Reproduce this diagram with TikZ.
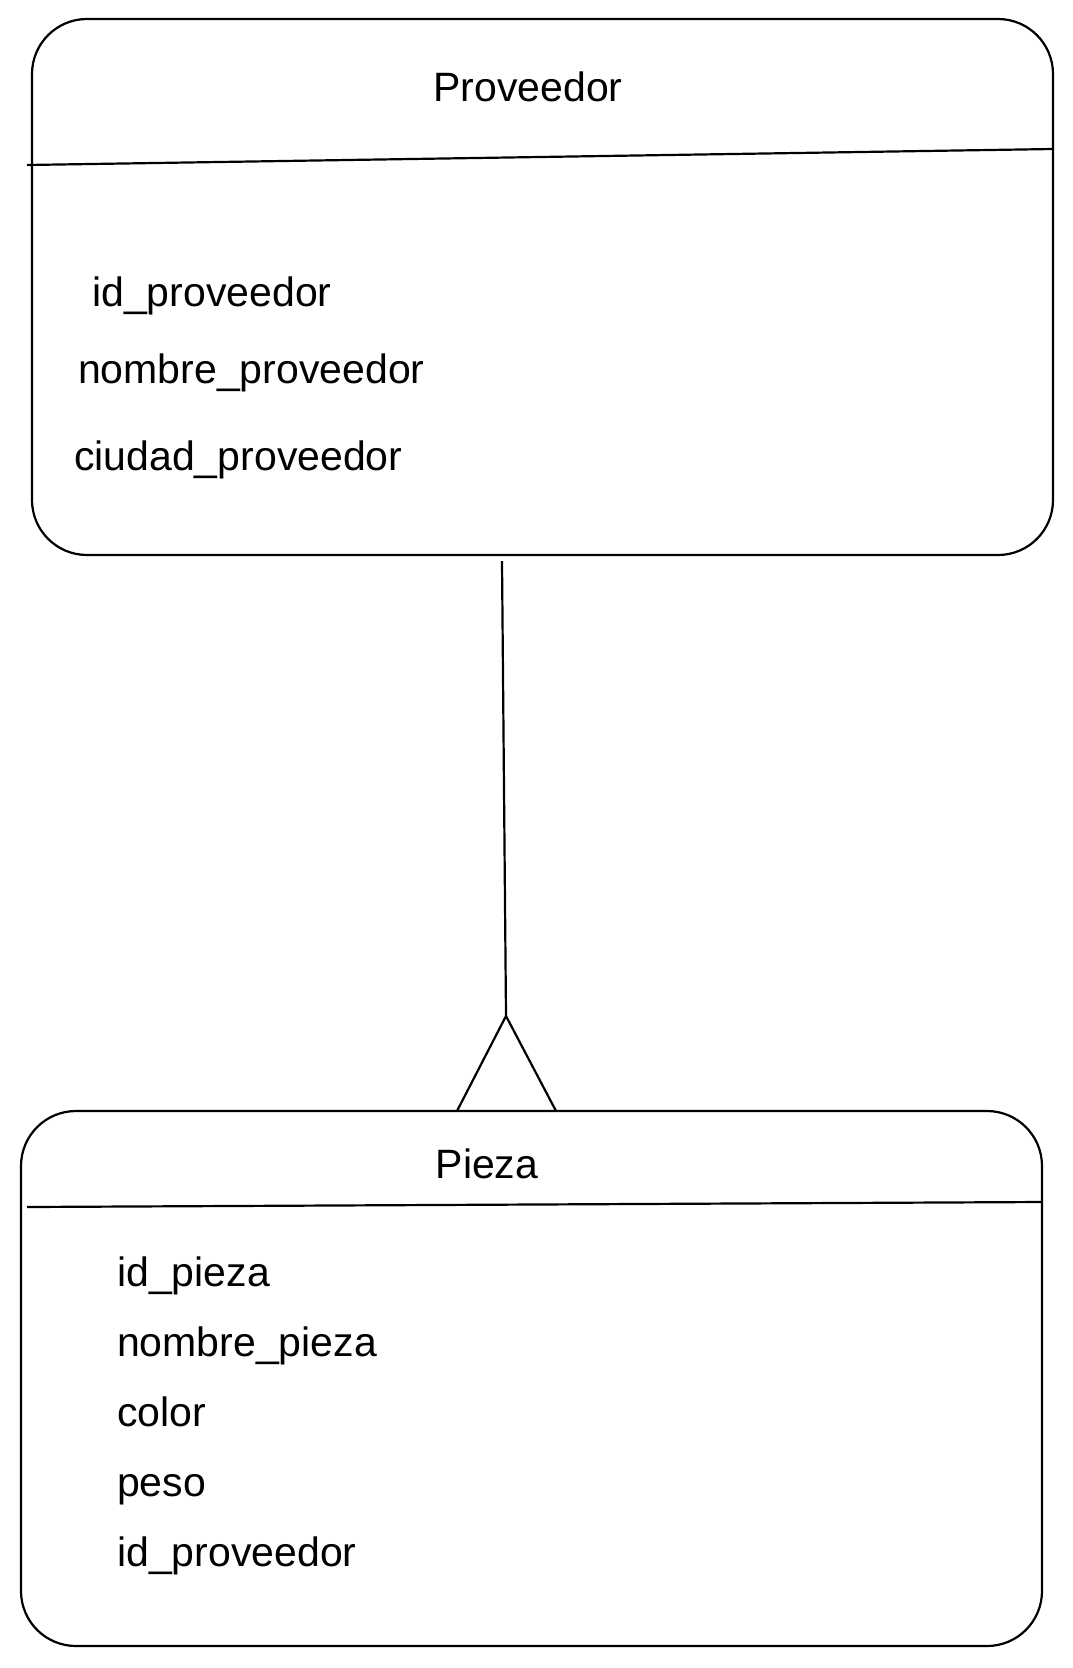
\documentclass[tikz,border=0pt]{standalone}
\usepackage{fontspec}
\setmainfont{Liberation Sans}
\usepackage{tikz}
\usetikzlibrary{positioning,calc}

\begin{document}
\begin{tikzpicture}[
    x=1pt, y=-1pt,
    entity/.style={rectangle, draw, rounded corners=55pt, inner sep=0pt, outer sep=0pt, line width=2.2pt, minimum width=1021pt},
    title/.style={anchor=base, inner sep=0pt, font=\fontsize{41pt}{49pt}\selectfont},
    attr/.style={anchor=base west, inner sep=0pt, font=\fontsize{41pt}{49pt}\selectfont},
    divider/.style={line width=2.2pt},
    link/.style={line width=2.2pt}
]
\useasboundingbox (0,0) rectangle (1073,1668);

% Top box: Proveedor
\node[entity, minimum height=536pt] (proveedor) at (542.5,287) {};
\node[title] (tproveedor) at (528,101) {Proveedor};
\draw[divider] ([xshift=-5pt]proveedor.west |- 0,165) -- (proveedor.east |- 0,149);
\node[attr] (pidprov) at (92,306) {id\_proveedor};
\node[attr] (pnombre) at (78,383) {nombre\_proveedor};
\node[attr] (pciudad) at (74,470) {ciudad\_proveedor};

% Bottom box: Pieza
\node[entity, minimum height=535pt] (pieza) at (531.5,1378.5) {};
\node[title] (tpieza) at (487,1178) {Pieza};
\draw[divider] ([xshift=6pt]pieza.west |- 0,1207) -- (pieza.east |- 0,1202);
\node[attr] (zidpieza) at (117,1286) {id\_pieza};
\node[attr, below=70pt of zidpieza.base west, anchor=base west] (znombre) {nombre\_pieza};
\node[attr, below=70pt of znombre.base west, anchor=base west] (zcolor) {color};
\node[attr, below=70pt of zcolor.base west, anchor=base west] (zpeso) {peso};
\node[attr, below=70pt of zpeso.base west, anchor=base west] (zidprov) {id\_proveedor};

% Relationship: one Proveedor - many Pieza (crow's foot)
\coordinate (relstart) at (502,561);
\coordinate (crow) at (506,1016);
\draw[link] (relstart) -- (crow);
\draw[link] (crow) -- (pieza.north -| 457,0);
\draw[link] (crow) -- (pieza.north -| 556,0);

\end{tikzpicture}
\end{document}
